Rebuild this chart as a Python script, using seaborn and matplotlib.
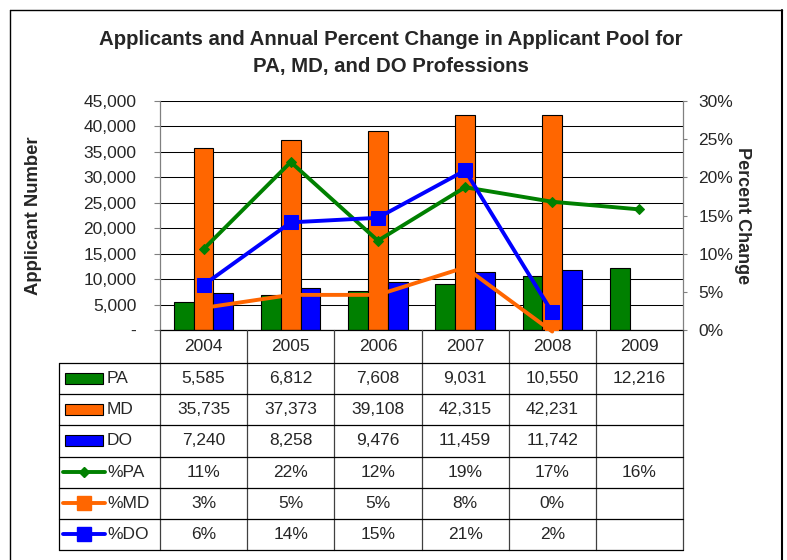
import numpy as np
import pandas as pd
import seaborn as sns
import matplotlib
matplotlib.use("Agg")
import matplotlib.pyplot as plt
from matplotlib.lines import Line2D
from matplotlib.patches import Rectangle

# ---------------- data ----------------
years = ["2004", "2005", "2006", "2007", "2008", "2009"]
pa = [5585, 6812, 7608, 9031, 10550, 12216]
md = [35735, 37373, 39108, 42315, 42231, np.nan]
do = [7240, 8258, 9476, 11459, 11742, np.nan]
pct_pa = [10.6, 22.0, 11.7, 18.7, 16.8, 15.8]
pct_md = [2.9, 4.6, 4.6, 8.2, -0.2, np.nan]
pct_do = [5.9, 14.1, 14.7, 20.9, 2.3, np.nan]
bar_series = ["PA", "MD", "DO"]
line_series = ["%PA", "%MD", "%DO"]
left_ticks = [0, 5000, 10000, 15000, 20000, 25000, 30000, 35000, 40000, 45000]
left_tick_labels = ["-", "5,000", "10,000", "15,000", "20,000", "25,000",
                    "30,000", "35,000", "40,000", "45,000"]
right_ticks = [0, 5, 10, 15, 20, 25, 30]
right_tick_labels = ["0%", "5%", "10%", "15%", "20%", "25%", "30%"]
title = "Applicants and Annual Percent Change in Applicant Pool for\nPA, MD, and DO Professions"

GREEN, ORANGE, BLUE = "#008000", "#FF6600", "#0000FF"
bar_colors = {"PA": GREEN, "MD": ORANGE, "DO": BLUE}
FS = 12.5

# ---------------- figure ----------------
sns.set_style("white")
plt.rcParams["font.family"] = ["Liberation Sans", "DejaVu Sans"]

W, H = 787, 560
fig = plt.figure(figsize=(W / 100, H / 100), dpi=100)

L, R, T, B = 160, 683, 101, 330
ax = fig.add_axes([L / W, 1 - B / H, (R - L) / W, (B - T) / H])

def fx(x):
    return x / W

def fy(y):
    return 1 - y / H

df = pd.DataFrame({
    "year": years * 3,
    "series": ["PA"] * 6 + ["MD"] * 6 + ["DO"] * 6,
    "value": pa + md + do,
}).dropna()

sns.barplot(data=df, x="year", y="value", hue="series", order=years,
            hue_order=bar_series, palette=bar_colors, width=0.68,
            edgecolor="black", linewidth=0.8, errorbar=None, legend=False,
            saturation=1, ax=ax, zorder=2)

ax.set_ylim(0, 45000)
ax.set_yticks(left_ticks)
ax.set_yticklabels(left_tick_labels, fontsize=FS)
ax.yaxis.grid(True, color="black", linewidth=0.75)
ax.set_axisbelow(True)
ax.tick_params(axis="y", direction="out", length=4, width=0.8, color="#808080", pad=13)
ax.tick_params(axis="x", length=0, labelbottom=False)
ax.set_xlabel("")
ax.set_ylabel("Applicant Number", fontsize=13.3, fontweight="bold", labelpad=0)
ax.yaxis.set_label_coords((42 - L) / (R - L), 0.5)
for s in ["top", "right"]:
    ax.spines[s].set_visible(False)
ax.spines["left"].set_color("#808080")
ax.spines["left"].set_linewidth(0.9)
ax.spines["bottom"].set_color("black")
ax.spines["bottom"].set_linewidth(0.9)

ax2 = ax.twinx()
xpos = np.arange(len(years))
line_styles = [
    (pct_pa, GREEN, "D", 5, True),
    (pct_md, ORANGE, "s", 10, False),
    (pct_do, BLUE, "s", 10, True),
]
for vals, col, mk, ms, show_mk in line_styles:
    yv = np.array(vals, dtype=float)
    sns.lineplot(x=xpos, y=yv, ax=ax2, color=col,
                 marker=mk if show_mk else None, markersize=ms,
                 markeredgecolor=col, linewidth=2.8, clip_on=False, zorder=3)
    if not show_mk:
        sns.scatterplot(x=xpos, y=yv, ax=ax2, color=col, marker=mk, s=ms ** 2,
                        edgecolor=col, linewidth=0, zorder=3, legend=False)

ax2.set_ylim(0, 30)
ax2.set_yticks(right_ticks)
ax2.set_yticklabels(right_tick_labels, fontsize=FS)
ax2.tick_params(axis="y", direction="out", length=3, width=0.8, color="#808080", pad=8)
ax2.set_ylabel("Percent Change", fontsize=13, fontweight="bold", rotation=-90)
ax2.yaxis.set_label_coords((751 - L) / (R - L), 0.5)
for s in ["top", "left", "bottom"]:
    ax2.spines[s].set_visible(False)
ax2.spines["right"].set_color("#808080")
ax2.spines["right"].set_linewidth(0.9)
ax.set_xlim(-0.5, len(years) - 0.5)
ax2.set_xlabel("")

# ---------------- title ----------------
fig.text(fx(391), fy(53), title, ha="center", va="center", fontsize=14.7,
         fontweight="bold", linespacing=1.55)

# ---------------- data table ----------------
col_w = (R - L) / len(years)
TL = 59
row_edges = list(np.linspace(363, 550, 7))
head_top = B

def hline(x0, x1, y, color="black", lw=0.9):
    fig.add_artist(Line2D([fx(x0), fx(x1)], [fy(y), fy(y)], color=color, lw=lw))

def vline(x, y0, y1, color="black", lw=0.9):
    fig.add_artist(Line2D([fx(x), fx(x)], [fy(y0), fy(y1)], color=color, lw=lw))

for k in range(len(years) + 1):
    vline(L + k * col_w, head_top, row_edges[-1], color="#404040")
vline(TL, row_edges[0], row_edges[-1])
for y in row_edges:
    hline(TL, R, y)

for i, yr in enumerate(years):
    fig.text(fx(L + (i + 0.5) * col_w), fy((head_top + row_edges[0]) / 2), yr,
             ha="center", va="center", fontsize=FS)

rows = [
    ("PA", pa, "bar", GREEN, None, 0),
    ("MD", md, "bar", ORANGE, None, 0),
    ("DO", do, "bar", BLUE, None, 0),
    ("%PA", pct_pa, "line", GREEN, "D", 5),
    ("%MD", pct_md, "line", ORANGE, "s", 10),
    ("%DO", pct_do, "line", BLUE, "s", 10),
]
for r, (name, vals, kind, col, mk, ms) in enumerate(rows):
    cy = (row_edges[r] + row_edges[r + 1]) / 2
    if kind == "bar":
        fig.add_artist(Rectangle((fx(65), fy(cy + 5.5)), fx(103) - fx(65),
                                 fy(cy - 5.5) - fy(cy + 5.5), facecolor=col,
                                 edgecolor="black", lw=0.8,
                                 transform=fig.transFigure))
        txt = [f"{int(v):,}" if not np.isnan(v) else "" for v in vals]
    else:
        fig.add_artist(Line2D([fx(63), fx(105)], [fy(cy), fy(cy)], color=col, lw=2.8))
        fig.add_artist(Line2D([fx(84)], [fy(cy)], color=col, marker=mk,
                              markersize=ms, markeredgecolor=col))
        txt = [f"{int(round(v))}%" if not np.isnan(v) else "" for v in vals]
    fig.text(fx(107), fy(cy), name, ha="left", va="center", fontsize=FS)
    for i, t in enumerate(txt):
        fig.text(fx(L + (i + 0.5) * col_w), fy(cy), t, ha="center",
                 va="center", fontsize=FS)

# ---------------- outer border ----------------
vline(10, 10, H + 5, lw=1.0)
hline(10, 782, 10, lw=1.0)
vline(782, 10, H + 5, lw=1.5)

fig.savefig("out.png", dpi=100)
